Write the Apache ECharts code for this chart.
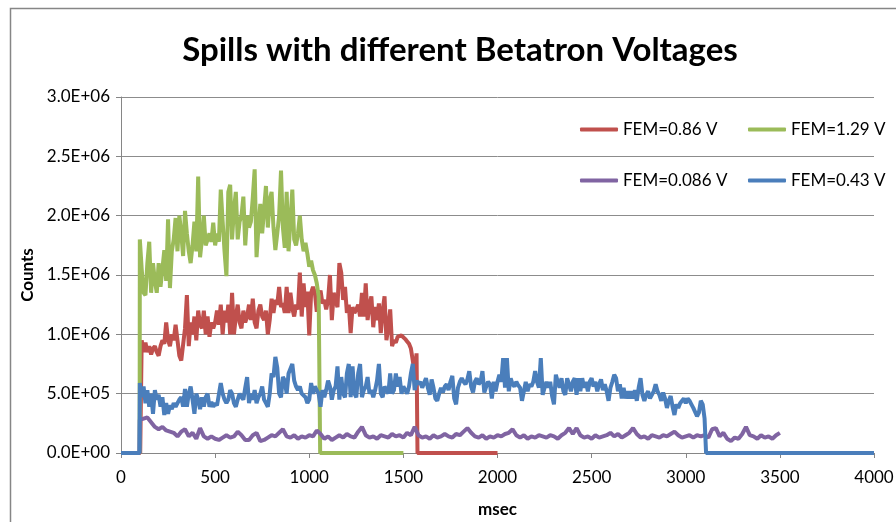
<!DOCTYPE html>
<html>
<head>
<meta charset="utf-8">
<title>Spills with different Betatron Voltages</title>
<script src="https://cdn.jsdelivr.net/npm/echarts/dist/echarts.min.js"></script>
<style>
  html, body { margin: 0; padding: 0; background: #fff; }
  #chart { width: 896px; height: 522px; }
</style>
</head>
<body>
<div id="chart"></div>
<script>
  // counts in millions (1.00 = 1.0E+06)
  const xTicks = [0, 500, 1000, 1500, 2000, 2500, 3000, 3500, 4000];

  // FEM=0.86 V, one sample every 10 msec from 110
  const fem0_86Start = 110;
  const fem0_86Step = 10;
  const fem0_86Values = [
    0.95, 0.85, 0.93, 0.85, 0.90, 0.83, 0.88, 0.90, 0.85, 0.82,
    0.90, 0.95, 0.92, 1.10, 0.95, 0.90, 1.00, 0.95, 1.08, 0.95,
    0.82, 0.78, 0.77, 1.05, 1.33, 0.90, 1.10, 1.00, 1.15, 0.95,
    1.20, 1.08, 1.05, 1.20, 1.00, 1.15, 0.98, 1.10, 1.05, 1.10,
    1.20, 1.08, 1.25, 1.00, 1.20, 1.10, 1.25, 1.00, 1.35, 1.00,
    1.15, 1.25, 1.10, 1.05, 1.20, 1.10, 1.15, 1.25, 1.12, 1.30,
    1.10, 1.05, 1.20, 1.25, 1.15, 1.12, 1.20, 1.00, 1.12, 1.30,
    1.18, 1.29, 1.25, 1.40, 1.23, 1.26, 1.18, 1.40, 1.18, 1.35,
    1.22, 1.15, 1.25, 1.21, 1.52, 1.15, 1.43, 1.23, 1.36, 0.99,
    1.35, 1.40, 1.35, 1.19, 1.30, 1.37, 1.26, 1.29, 1.21, 1.29,
    1.50, 1.12, 1.35, 1.28, 1.23, 1.60, 1.52, 1.29, 1.40, 1.18,
    1.25, 1.01, 1.23, 1.18, 1.21, 1.25, 1.15, 1.35, 1.15, 1.43,
    1.12, 1.25, 1.32, 1.06, 1.23, 1.12, 1.26, 1.01, 1.20, 1.32,
    0.95, 1.06, 1.21, 0.90, 0.95, 0.93, 0.98, 0.97, 0.99, 0.98,
    0.96, 0.94, 0.92, 0.88, 0.78, 0.67, 0.84
  ];
  const fem0_86Before = [[0, 0], [102, 0]];
  const fem0_86After = [[1575, 0], [2000, 0]];

  // FEM=1.29 V
  const fem1_29Start = 100;
  const fem1_29Step = 10;
  const fem1_29Values = [
    1.80, 1.55, 1.35, 1.33, 1.60, 1.78, 1.35, 1.60, 1.45, 1.35,
    1.60, 1.40, 1.55, 1.71, 1.45, 1.97, 1.39, 1.70, 1.80, 1.98,
    1.70, 2.00, 1.85, 1.66, 2.04, 1.85, 1.70, 1.60, 1.75, 1.95,
    1.70, 2.33, 1.65, 1.80, 2.00, 1.75, 1.80, 1.85, 1.78, 1.94,
    1.75, 1.85, 1.78, 2.22, 1.95, 1.70, 1.49, 2.20, 2.26, 1.80,
    2.05, 2.20, 1.80, 1.95, 2.00, 2.16, 1.75, 2.00, 1.90, 1.95,
    2.15, 2.39, 1.65, 1.90, 2.10, 1.85, 2.05, 2.25, 1.90, 2.13,
    2.20, 1.90, 1.71, 1.85, 2.00, 2.38, 1.90, 1.73, 2.20, 1.70,
    1.95, 2.22, 1.80, 1.75, 1.85, 2.00, 1.80, 1.70, 1.77, 1.68,
    1.57, 1.62, 1.54, 1.50, 1.43, 1.32
  ];
  const fem1_29Before = [[0, 0], [99, 0]];
  const fem1_29After = [[1058, 0], [1500, 0]];

  // FEM=0.086 V, one sample every 20 msec
  const fem0_086Start = 100;
  const fem0_086Step = 20;
  const fem0_086Values = [
    0.28, 0.29, 0.30, 0.26, 0.22, 0.20, 0.22, 0.19, 0.18, 0.17,
    0.14, 0.18, 0.20, 0.14, 0.17, 0.12, 0.21, 0.14, 0.12, 0.14,
    0.12, 0.11, 0.13, 0.15, 0.13, 0.14, 0.18, 0.15, 0.11, 0.11,
    0.15, 0.17, 0.10, 0.11, 0.13, 0.15, 0.14, 0.17, 0.20, 0.14,
    0.13, 0.15, 0.12, 0.14, 0.13, 0.15, 0.14, 0.19, 0.16, 0.12,
    0.14, 0.11, 0.13, 0.15, 0.13, 0.16, 0.14, 0.13, 0.18, 0.22,
    0.15, 0.13, 0.14, 0.12, 0.15, 0.14, 0.13, 0.16, 0.14, 0.15,
    0.13, 0.17, 0.15, 0.22, 0.15, 0.13, 0.14, 0.12, 0.15, 0.13,
    0.14, 0.16, 0.14, 0.13, 0.16, 0.15, 0.18, 0.21, 0.17, 0.14,
    0.13, 0.15, 0.12, 0.14, 0.13, 0.15, 0.14, 0.16, 0.17, 0.20,
    0.15, 0.13, 0.15, 0.12, 0.14, 0.13, 0.15, 0.14, 0.13, 0.15,
    0.14, 0.12, 0.15, 0.17, 0.21, 0.16, 0.21, 0.15, 0.13, 0.14,
    0.12, 0.15, 0.13, 0.14, 0.15, 0.17, 0.14, 0.16, 0.13, 0.15,
    0.17, 0.21, 0.16, 0.13, 0.14, 0.12, 0.15, 0.14, 0.13, 0.15,
    0.14, 0.16, 0.18, 0.15, 0.13, 0.14, 0.15, 0.13, 0.15, 0.14,
    0.15, 0.13, 0.20, 0.21, 0.14, 0.17, 0.12, 0.10, 0.13, 0.12,
    0.16, 0.22, 0.15, 0.14, 0.12, 0.15, 0.13, 0.14, 0.12, 0.15,
    0.17
  ];
  const fem0_086Before = [[0, 0], [98, 0]];
  const fem0_086After = [];

  // FEM=0.43 V
  const fem0_43Start = 100;
  const fem0_43Step = 10;
  const fem0_43Values = [
    0.59, 0.47, 0.56, 0.42, 0.53, 0.39, 0.50, 0.33, 0.53, 0.45,
    0.49, 0.39, 0.47, 0.32, 0.42, 0.33, 0.40, 0.37, 0.42, 0.39,
    0.39, 0.45, 0.47, 0.39, 0.54, 0.39, 0.50, 0.56, 0.45, 0.33,
    0.50, 0.45, 0.37, 0.47, 0.39, 0.47, 0.50, 0.39, 0.43, 0.39,
    0.42, 0.40, 0.39, 0.59, 0.50, 0.45, 0.42, 0.45, 0.53, 0.50,
    0.42, 0.39, 0.45, 0.50, 0.47, 0.45, 0.55, 0.64, 0.42, 0.50,
    0.45, 0.53, 0.42, 0.47, 0.50, 0.56, 0.45, 0.42, 0.39, 0.50,
    0.67, 0.64, 0.81, 0.72, 0.50, 0.47, 0.64, 0.61, 0.50, 0.67,
    0.67, 0.75, 0.61, 0.56, 0.53, 0.56, 0.50, 0.50, 0.47, 0.42,
    0.45, 0.59, 0.50, 0.56, 0.53, 0.50, 0.39, 0.53, 0.47, 0.53,
    0.61, 0.56, 0.45, 0.53, 0.56, 0.73, 0.45, 0.64, 0.50, 0.47,
    0.67, 0.75, 0.47, 0.73, 0.50, 0.47, 0.67, 0.75, 0.47, 0.53,
    0.56, 0.64, 0.50, 0.53, 0.47, 0.53, 0.61, 0.75, 0.50, 0.47,
    0.56, 0.53, 0.50, 0.67, 0.50, 0.53, 0.67, 0.56, 0.64, 0.50,
    0.56, 0.53, 0.50, 0.56, 0.67, 0.75, 0.53, 0.61, 0.58, 0.60,
    0.55, 0.56, 0.63, 0.55, 0.49, 0.62, 0.55, 0.46, 0.44, 0.50,
    0.55, 0.51, 0.56, 0.58, 0.53, 0.60, 0.65, 0.46, 0.41, 0.55,
    0.60, 0.63, 0.60, 0.58, 0.62, 0.69, 0.56, 0.51, 0.60, 0.63,
    0.58, 0.60, 0.69, 0.51, 0.56, 0.60, 0.58, 0.46, 0.60, 0.52,
    0.60, 0.66, 0.60, 0.80, 0.55, 0.80, 0.52, 0.63, 0.58, 0.56,
    0.60, 0.57, 0.55, 0.44, 0.52, 0.60, 0.52, 0.58, 0.56, 0.60,
    0.69, 0.60, 0.55, 0.80, 0.49, 0.55, 0.60, 0.55, 0.60, 0.48,
    0.41, 0.66, 0.60, 0.55, 0.63, 0.52, 0.49, 0.63, 0.58, 0.52,
    0.60, 0.63, 0.49, 0.63, 0.52, 0.63, 0.55, 0.60, 0.52, 0.60,
    0.63, 0.56, 0.60, 0.52, 0.58, 0.62, 0.53, 0.58, 0.52, 0.44,
    0.55, 0.60, 0.66, 0.63, 0.52, 0.58, 0.46, 0.55, 0.46, 0.52,
    0.46, 0.52, 0.46, 0.53, 0.44, 0.55, 0.63, 0.49, 0.44, 0.49,
    0.52, 0.46, 0.49, 0.52, 0.58, 0.52, 0.49, 0.44, 0.51, 0.46,
    0.38, 0.44, 0.48, 0.39, 0.32, 0.41, 0.38, 0.42, 0.41, 0.46,
    0.42, 0.46, 0.44, 0.41, 0.38, 0.37, 0.31, 0.34, 0.44, 0.41,
    0.29
  ];
  const fem0_43Before = [[0, 0], [98, 0]];
  const fem0_43After = [[3108, 0], [4000, 0]];

  const seriesNames = ['FEM=0.86 V', 'FEM=1.29 V', 'FEM=0.086 V', 'FEM=0.43 V'];
  const seriesColors = ['#c0504d', '#9bbb59', '#8064a2', '#4a7ebb'];

  // turn a run of samples into [msec, counts] pairs
  function toPoints(before, start, step, values, after) {
    return before.concat(values.map((v, i) => [start + i * step, v]), after);
  }

  const seriesData = [
    toPoints(fem0_86Before, fem0_86Start, fem0_86Step, fem0_86Values, fem0_86After),
    toPoints(fem1_29Before, fem1_29Start, fem1_29Step, fem1_29Values, fem1_29After),
    toPoints(fem0_086Before, fem0_086Start, fem0_086Step, fem0_086Values, fem0_086After),
    toPoints(fem0_43Before, fem0_43Start, fem0_43Step, fem0_43Values, fem0_43After)
  ];

  // 1.5 -> "1.5E+06"
  function sciLabel(millions) {
    const parts = (millions * 1e6).toExponential(1).split('e');
    const sign = parts[1][0];
    return parts[0] + 'E' + sign + parts[1].slice(1).padStart(2, '0');
  }

  const font = 'Lato, "Open Sans", sans-serif';
  const legendSpots = [[575, 116], [743, 116], [575, 167], [743, 167]];

  const chart = echarts.init(document.getElementById('chart'));
  chart.setOption({
    animation: false,
    backgroundColor: '#fff',
    textStyle: { fontFamily: font },
    title: {
      text: 'Spills with different Betatron Voltages',
      left: 455,
      top: 29,
      textAlign: 'center',
      textStyle: { fontFamily: font, fontSize: 33, fontWeight: 'bold', color: '#000' }
    },
    graphic: [{
      type: 'rect',
      shape: { x: 10.5, y: 8.5, width: 1000, height: 600 },
      style: { fill: 'none', stroke: '#868686', lineWidth: 1.5 },
      silent: true
    }],
    legend: seriesNames.map((name, i) => ({
      data: [name],
      left: legendSpots[i][0],
      top: legendSpots[i][1],
      icon: 'roundRect',
      itemWidth: 38,
      itemHeight: 4,
      textStyle: { fontFamily: font, fontSize: 17, color: '#000' }
    })),
    grid: { left: 121, right: 22, top: 97, bottom: 69, outerBoundsMode: 'none' },
    xAxis: {
      type: 'value',
      min: 0,
      max: 4000,
      interval: 500,
      name: 'msec',
      nameLocation: 'middle',
      nameGap: 48,
      nameTextStyle: { fontFamily: font, fontSize: 17, fontWeight: 'bold', color: '#000' },
      axisLine: { lineStyle: { color: '#868686', width: 1 } },
      axisTick: { show: true, length: 5, inside: false, lineStyle: { color: '#868686' } },
      axisLabel: {
        margin: 16,
        fontSize: 17,
        color: '#000',
        customValues: xTicks,
        formatter: v => String(v)
      },
      splitLine: { show: false }
    },
    yAxis: {
      type: 'value',
      min: 0,
      max: 3,
      interval: 0.5,
      name: 'Counts',
      nameLocation: 'middle',
      nameGap: 85,
      nameRotate: 90,
      nameTextStyle: { fontFamily: font, fontSize: 17, fontWeight: 'bold', color: '#000' },
      axisLine: { show: true, lineStyle: { color: '#868686', width: 1 } },
      axisTick: { show: true, length: 5, lineStyle: { color: '#868686' } },
      axisLabel: { margin: 11, fontSize: 17, color: '#000', formatter: sciLabel },
      splitLine: { show: true, lineStyle: { color: '#8c8c8c', width: 1 } }
    },
    series: seriesNames.map((name, i) => ({
      name: name,
      type: 'line',
      data: seriesData[i],
      showSymbol: false,
      symbol: 'none',
      color: seriesColors[i],
      lineStyle: { width: 4, color: seriesColors[i] },
      z: 2 + i
    }))
  });
</script>
</body>
</html>
